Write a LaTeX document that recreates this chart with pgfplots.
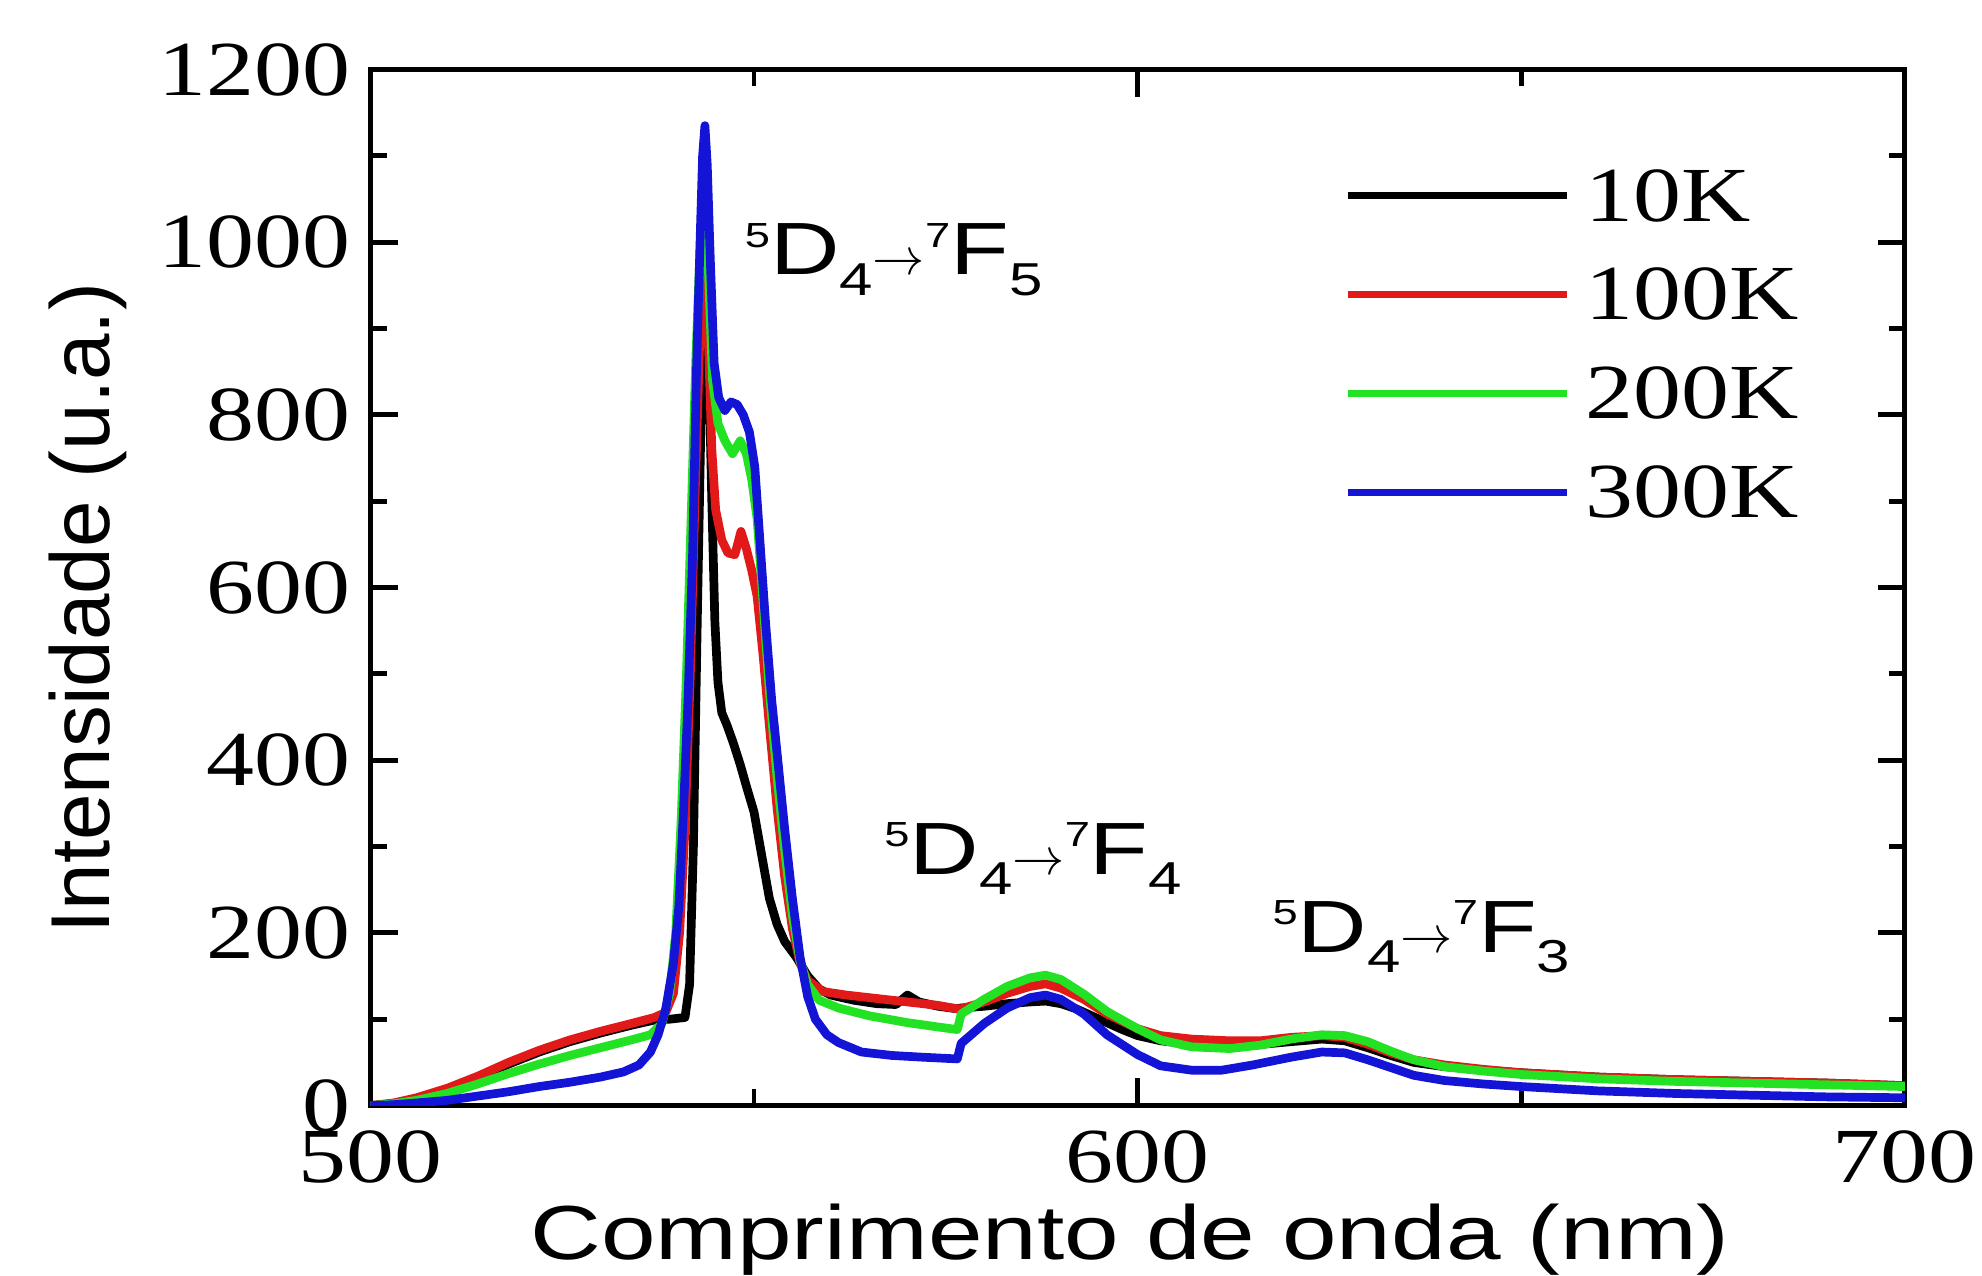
\documentclass[border=0pt]{standalone}
\usepackage{fontspec}
\setmainfont{Liberation Serif}
\newfontfamily\serifw[FakeStretch=1.23]{Liberation Serif}
\newfontfamily\sansx[FakeStretch=1.28]{Liberation Sans}
\newfontfamily\sansy{Liberation Sans}
\newfontfamily\sansa[FakeStretch=1.3]{Liberation Sans}
\usepackage{pgfplots}
\pgfplotsset{compat=1.18}

\definecolor{c10}{RGB}{0,0,0}
\definecolor{c100}{RGB}{225,25,25}
\definecolor{c200}{RGB}{35,225,35}
\definecolor{c300}{RGB}{20,20,215}

% term label 5D4 -> 7Fj
\newcommand{\trans}[1]{\sansa\fontsize{17}{20}\selectfont
  \raisebox{6.4pt}{\fontsize{8}{8}\selectfont 5}D\raisebox{-4.6pt}{\fontsize{10.6}{11}\selectfont 4}{\fontsize{11.5}{11}\selectfont$\rightarrow$}\raisebox{6.4pt}{\fontsize{8}{8}\selectfont 7}F\raisebox{-4.6pt}{\fontsize{10.6}{11}\selectfont #1}}

\begin{document}
\begin{tikzpicture}
\begin{axis}[
  name=ax,
  scale only axis,
  width=12.386cm, height=8.363cm,
  xmin=500, xmax=700, ymin=0, ymax=1200,
  xtick={500,600,700}, minor xtick={550,650},
  ytick={0,200,...,1200}, minor ytick={100,300,...,1100},
  tick align=inside,
  major tick length=0.22cm, minor tick length=0.13cm,
  axis line style={line width=1.1pt},
  every tick/.style={black, line width=1.1pt},
  /pgf/number format/assume math mode=true,
  /pgf/number format/1000 sep={},
  ticklabel style={font=\serifw\fontsize{17.9}{20}\selectfont},
  xticklabel style={yshift=-0.08cm},
  yticklabel style={xshift=-0.04cm},
  xlabel={\sansx Comprimento de onda (nm)},
  ylabel={\sansy Intensidade (u.a.)},
  xlabel style={font=\fontsize{17.6}{20}\selectfont, at={(rel axis cs:0.495,-0.149)}, anchor=base},
  ylabel style={font=\fontsize{19.2}{21}\selectfont, at={(rel axis cs:-0.184,0.48)}, anchor=center},
  legend style={at={(rel axis cs:0.634,0.913)}, anchor=north west, draw=none, fill=none,
    font=\serifw\fontsize{17.9}{20}\selectfont, row sep=5.3pt, column sep=0.05cm,
    inner sep=0pt, nodes={inner sep=2pt}},
  legend cell align=left,
  legend image code/.code={\draw[#1, line width=1.6pt] (0cm,0.02cm) -- (1.77cm,0.02cm);},
  every axis plot/.append style={line width=2pt, line join=round},
]
\addplot[c10] coordinates {
(500,0) (503,2) (506,8) (510,18) (514,32) (518,48) (522,62) (526,74) (530,84) (534,93)
(537,99) (539,100) (541,102) (541.6,140) (542.1,300) (542.6,560) (543.1,800) (543.6,920)
(544.1,860) (544.5,700) (544.9,560) (545.3,490) (545.8,455) (546.5,440) (547.3,420)
(548.2,395) (549,370) (550,340) (551,290) (552,240) (553,210) (554,190) (555.5,172)
(557,150) (558.5,135) (560,128) (563,122) (566,118) (568.5,117) (570,128) (571.5,120)
(574,115) (576.5,112) (577,113) (580,115) (583,118) (586,120) (588,121) (590,118)
(592,112) (595,100) (598,88) (600,81) (603,75) (606,72) (610,70) (615,70) (620,74)
(624,77) (627,75) (630,67) (633,58) (636,50) (640,45) (645,41) (650,38) (660,33)
(670,30) (680,28) (690,26) (700,23)
};
\addplot[c100] coordinates {
(500,0) (503,3) (506,9) (510,20) (514,34) (518,50) (522,64) (526,76) (530,86) (534,95)
(537,102) (538.5,108) (539.5,130) (540.3,200) (541,320) (541.7,500) (542.3,700)
(542.9,880) (543.5,965) (544,900) (544.5,760) (545,690) (545.8,655) (546.6,640)
(547.5,638) (548.3,665) (549,645) (549.7,620) (550.4,590) (551.2,520) (552,440)
(553,345) (554,265) (555,205) (556,165) (557,145) (559,132) (562,128) (566,124)
(570,120) (574,116) (576.5,112) (577,112) (580,120) (583,130) (586,138) (588,141)
(590,136) (593,123) (596,106) (600,89) (603,81) (607,77) (612,75) (616,75) (620,79)
(624,81) (627,79) (630,71) (633,61) (636,53) (640,47) (645,42) (650,38) (660,33)
(670,30) (680,28) (690,26) (700,23)
};
\addplot[c200] coordinates {
(500,0) (503,2) (506,6) (510,14) (514,25) (518,37) (522,48) (526,58) (530,67) (534,76)
(536.5,82) (538,95) (539,130) (539.8,200) (540.5,330) (541.2,500) (541.8,680)
(542.4,860) (543,1000) (543.5,1050) (544,980) (544.6,840) (545.3,790) (546.2,770)
(547.2,755) (548.2,770) (549,755) (549.7,725) (550.4,680) (551.2,580) (552,480)
(553,380) (554,295) (555,220) (556,168) (557,140) (558.5,122) (561,113) (565,104)
(570,96) (574,91) (576.5,88) (577,106) (580,123) (583,138) (586,148) (588,151)
(590,146) (593,129) (596,109) (600,89) (603,76) (607,68) (612,66) (616,70) (620,77)
(624,82) (627,81) (630,74) (633,63) (636,53) (640,45) (645,40) (650,36) (660,31)
(670,28) (680,26) (690,24) (700,22)
};
\addplot[c300] coordinates {
(500,0) (503,1) (506,3) (510,6) (514,11) (518,16) (522,22) (526,27) (530,33) (533,39)
(535,47) (536.5,62) (537.5,82) (538.5,112) (539.5,165) (540.2,230) (540.8,340)
(541.4,470) (542,640) (542.5,850) (543,1010) (543.3,1100) (543.6,1135) (543.9,1090)
(544.3,980) (544.8,860) (545.4,820) (546.2,805) (547,815) (547.8,812) (548.6,800)
(549.4,780) (550.1,740) (550.8,650) (551.5,560) (552.3,470) (553.1,400) (554,320)
(555,240) (556,172) (557,126) (558,100) (559.5,82) (561,73) (564,62) (568,58) (572,56)
(576.5,54) (577,72) (580,95) (583,113) (586,125) (588,128) (590,123) (593,106) (596,82)
(600,59) (603,46) (607,41) (611,41) (615,47) (620,56) (624,62) (627,61) (630,53)
(633,44) (636,35) (640,29) (645,25) (650,22) (660,17) (670,14) (680,12) (690,10) (700,9)
};
\legend{10K,100K,200K,300K}
\node[anchor=base, inner sep=0pt] at (axis cs:568.2,962) {\trans{5}};
\node[anchor=base, inner sep=0pt] at (axis cs:586.4,268) {\trans{4}};
\node[anchor=base, inner sep=0pt] at (axis cs:637.0,177) {\trans{3}};
\end{axis}
\pgfresetboundingbox
\path[use as bounding box] ([shift={(-2.99cm,-1.37cm)}]ax.south west) rectangle ([shift={(0.623cm,0.561cm)}]ax.north east);
\end{tikzpicture}
\end{document}
